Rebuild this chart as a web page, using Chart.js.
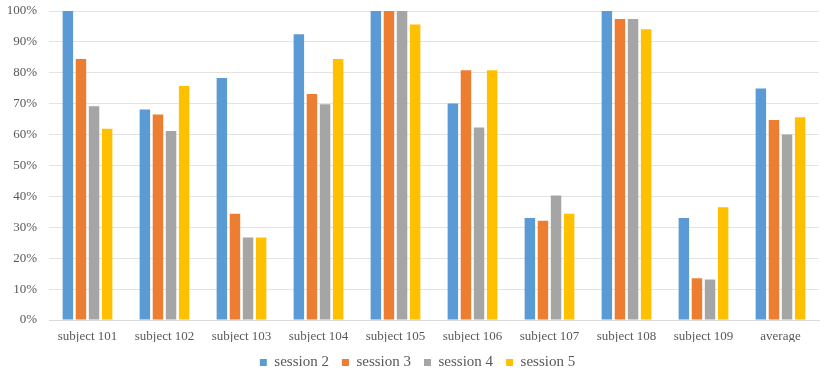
<!DOCTYPE html>
<html>
<head>
<meta charset="utf-8">
<script src="https://cdn.jsdelivr.net/npm/chart.js@4"></script>
<style>
  html, body { margin: 0; padding: 0; background: #fff; }
  #wrap { width: 830px; height: 377px; }
</style>
</head>
<body>
<div id="wrap"><canvas id="chart" width="830" height="377"></canvas></div>
<script>
const categories = ['subject 101', 'subject 102', 'subject 103', 'subject 104', 'subject 105',
                    'subject 106', 'subject 107', 'subject 108', 'subject 109', 'average'];
const session2 = [100, 68.1, 78.3, 92.5, 100, 70.1, 33.0, 100, 33.0, 74.9];
const session3 = [84.5, 66.5, 34.4, 73.1, 100, 80.8, 32.1, 97.4, 13.5, 64.7];
const session4 = [69.2, 61.2, 26.7, 69.8, 100, 62.3, 40.3, 97.4, 13.1, 60.0];
const session5 = [61.9, 75.7, 26.7, 84.5, 95.6, 80.8, 34.4, 94.1, 36.5, 65.6];
const seriesNames = ['session 2', 'session 3', 'session 4', 'session 5'];
const seriesColors = ['#5B9BD5', '#ED7D31', '#A5A5A5', '#FFC000'];

const serif = "'Liberation Serif', 'Times New Roman', serif";
const textColor = '#595959';

// legend sits a little right of the canvas centre in the original
const shiftLegend = {
    id: 'shiftLegend',
    afterLayout(chart) {
        chart.legend.left += 8;
        chart.legend.right += 8;
    }
};

const ctx = document.getElementById('chart').getContext('2d');
const chart = new Chart(ctx, {
    type: 'bar',
    data: {
        labels: categories,
        datasets: [session2, session3, session4, session5].map((vals, i) => ({
            label: seriesNames[i],
            data: vals,
            backgroundColor: seriesColors[i],
            borderWidth: 0,
            categoryPercentage: 0.68,
            barPercentage: 0.8
        }))
    },
    options: {
        responsive: false,
        animation: false,
        layout: { padding: { top: 0, right: 11, left: 0, bottom: -3 } },
        plugins: {
            legend: {
                position: 'bottom',
                labels: {
                    boxWidth: 7,
                    boxHeight: 7,
                    padding: 13,
                    color: textColor,
                    font: { family: serif, size: 15 }
                }
            },
            tooltip: { enabled: false }
        },
        scales: {
            x: {
                grid: { display: false, drawTicks: false },
                border: { display: true, color: '#D9D9D9' },
                ticks: {
                    color: textColor,
                    padding: 9,
                    maxRotation: 0,
                    font: { family: serif, size: 13 }
                },
                afterFit: (scale) => { scale.height = 22; }
            },
            y: {
                min: 0,
                max: 100,
                grid: { color: '#E3E3E3', drawTicks: false },
                border: { display: false },
                ticks: {
                    stepSize: 10,
                    color: textColor,
                    padding: 12,
                    font: { family: serif, size: 13 },
                    callback: (v) => v + '%'
                },
                afterFit: (scale) => {
                    scale.width = 49;
                    scale.paddingTop = 11;
                    scale.paddingBottom = 0;
                }
            }
        }
    },
    plugins: [shiftLegend]
});
</script>
</body>
</html>
